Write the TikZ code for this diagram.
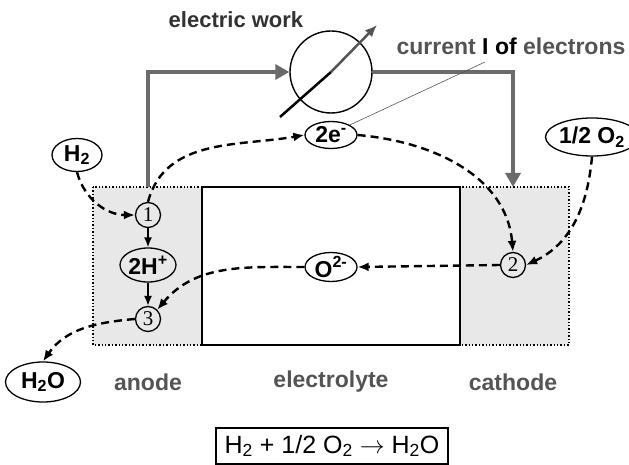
\documentclass[tikz,border=0pt]{standalone}
\usepackage{fontspec}
\setmainfont{Liberation Sans}
\newfontfamily\numfont{Liberation Serif}
\usetikzlibrary{shapes.geometric,arrows.meta,calc}

\definecolor{cellgray}{gray}{0.91}
\definecolor{wiregray}{gray}{0.42}
\definecolor{textgray}{gray}{0.33}

\tikzset{
  species/.style={ellipse,draw,line width=1.3pt,inner sep=0pt,font=\bfseries\fontsize{23}{23}\selectfont},
  stepnode/.style={circle,draw,line width=1.3pt,minimum size=25pt,inner sep=0pt,font=\numfont\fontsize{21}{21}\selectfont},
  flow/.style={line width=2.4pt,dash pattern=on 8pt off 5pt,-{Latex[length=11pt,width=9pt]}},
  steparrow/.style={line width=1.6pt,-{Latex[length=10pt,width=8pt]}},
  wire/.style={line width=4pt,wiregray,-{Triangle[length=14pt,width=15pt]}},
  cellborder/.style={line width=1.4pt,dotted},
  headtext/.style={font=\bfseries\fontsize{23}{23}\selectfont},
  worktext/.style={font=\bfseries\fontsize{22}{22}\selectfont,text=textgray!60!black},
  regiontext/.style={font=\bfseries\fontsize{23}{23}\selectfont,text=textgray}
}

\begin{document}
\begin{tikzpicture}[x=1pt,y=-1pt]
  \useasboundingbox (0,0) rectangle (629,465);
  % electrodes and electrolyte
  \fill[cellgray] (93,187) rectangle (202,345);
  \fill[cellgray] (460,187) rectangle (569,345);
  \draw[cellborder] (93,187) rectangle (202,345);
  \draw[cellborder] (460,187) rectangle (569,345);
  \draw[line width=1.6pt] (202,187) rectangle (460,345);

  % outer circuit
  \node[circle,draw,line width=1.4pt,minimum size=82pt] (meter) at (331,72) {};
  \coordinate (atop) at (148,187);
  \coordinate (ctop) at (513,187);
  \draw[wire] (atop) |- (meter.west);
  \draw[wire] (meter.east) -| (ctop);
  \draw[line width=2.5pt] ($(meter.center)+(-51,45)$) -- (meter.center);
  \draw[line width=2.5pt,textgray,-{Latex[length=12pt,width=10pt]}] (meter.center) -- ($(meter.center)+(46,-47)$);

  \node[worktext] (work) at (236,20) {electric work};
  \node[headtext,text=textgray] (current) at (511,46) {current \textcolor{black}{I of} electrons};

  % species
  \node[species,minimum width=50pt,minimum height=33pt] (H2) at (77,155) {H\textsubscript{2}};
  \node[species,minimum width=56pt,minimum height=34pt] (twoH) at (148,265) {2H\textsuperscript{+}};
  \node[species,minimum width=75pt,minimum height=40pt] (H2O) at (43,382) {H\textsubscript{2}O};
  \node[species,minimum width=52pt,minimum height=27pt] (e2) at (331,135) {2e\textsuperscript{-}};
  \node[species,minimum width=52pt,minimum height=28pt] (O2m) at (331,267) {O\textsuperscript{2-}};
  \node[species,minimum width=76pt,minimum height=38pt] (halfO2) at (592,137) {1/2 O\textsubscript{2}};

  \node[stepnode] (n1) at (148,215) {1};
  \node[stepnode] (n3) at (148,319) {3};
  \node[stepnode] (n2) at (513,265) {2};

  \coordinate (ptr) at (485,62);
  \draw[line width=0.6pt,textgray] (ptr) -- (e2.north east);

  % reactions
  \draw[steparrow] (n1) -- (twoH);
  \draw[steparrow] (twoH) -- (n3);
  \draw[flow] (H2.south) to[out=-75,in=180] (n1.west);
  \draw[flow] (n1.north) to[out=75,in=190] (e2.west);
  \draw[flow] (e2.east) to[out=-5,in=95] (n2.north);
  \draw[flow] (halfO2.south) to[out=-95,in=25] (n2.east);
  \draw[flow] (n2.west) -- (O2m.east);
  \draw[flow] (O2m.west) to[out=180,in=50] (n3.north east);
  \draw[flow] (n3.west) to[out=185,in=55] (H2O.north);

  \node[regiontext] (anode) at (148,382) {anode};
  \node[regiontext] (electrolyte) at (331,382) {electrolyte};
  \node[regiontext] (cathode) at (513,382) {cathode};

  \node[draw,line width=1.3pt,minimum width=232pt,minimum height=36pt,font=\fontsize{25}{25}\selectfont] (eq) at (332,446)
    {H\textsubscript{2} + 1/2 O\textsubscript{2} $\rightarrow$ H\textsubscript{2}O};
\end{tikzpicture}
\end{document}
